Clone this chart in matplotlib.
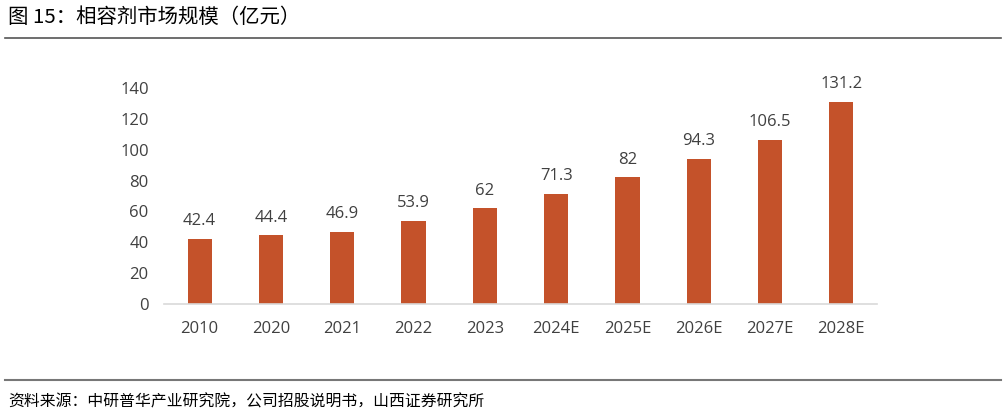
import matplotlib
matplotlib.use("Agg")
import matplotlib.pyplot as plt

plt.rcParams['font.family'] = ['Noto Sans CJK SC', 'DejaVu Sans']

# 数据
years = ['2010', '2020', '2021', '2022', '2023', '2024E', '2025E', '2026E', '2027E', '2028E']
market_size = [42.4, 44.4, 46.9, 53.9, 62, 71.3, 82, 94.3, 106.5, 131.2]
value_labels = ['42.4', '44.4', '46.9', '53.9', '62', '71.3', '82', '94.3', '106.5', '131.2']
y_ticks = [0, 20, 40, 60, 80, 100, 120, 140]

BAR_COLOR = '#C4522A'
TEXT_COLOR = '#404040'

fig = plt.figure(figsize=(10.07, 4.2), dpi=100)

# 图表区域
ax = fig.add_axes([164 / 1007, 1 - 304 / 420, 713 / 1007, 216 / 420])
x = list(range(len(years)))
ax.bar(x, market_size, width=0.34, color=BAR_COLOR)

for xi, v, lab in zip(x, market_size, value_labels):
    ax.annotate(lab, (xi, v), xytext=(0, 7), textcoords='offset points',
                ha='center', va='bottom', fontsize=12, color=TEXT_COLOR,
                family=['Open Sans', 'DejaVu Sans'])

ax.set_xlim(-0.5, len(years) - 0.5)
ax.set_ylim(0, 140)
ax.set_yticks(y_ticks)
ax.set_xticks(x)
ax.set_xticklabels(years)
for lab in ax.get_xticklabels() + ax.get_yticklabels():
    lab.set_family(['Open Sans', 'DejaVu Sans'])
    lab.set_fontsize(12)
    lab.set_color(TEXT_COLOR)
ax.tick_params(length=0)
ax.tick_params(axis='y', pad=11)
ax.tick_params(axis='x', pad=12)

for s in ['top', 'right', 'left']:
    ax.spines[s].set_visible(False)
ax.spines['bottom'].set_color('#D9D9D9')
ax.spines['bottom'].set_linewidth(1.2)

# 标题和来源
fig.text(8 / 1007, 1 - 17 / 420, '图 15：相容剂市场规模（亿元）', fontsize=14.7,
         va='center', ha='left', color='black')
fig.add_artist(plt.Line2D([5 / 1007, 1001 / 1007], [1 - 38 / 420, 1 - 38 / 420],
                          color='#555555', linewidth=1.2))
fig.add_artist(plt.Line2D([5 / 1007, 1001 / 1007], [1 - 380 / 420, 1 - 380 / 420],
                          color='#777777', linewidth=1.5))
fig.text(8 / 1007, 1 - 402 / 420, '资料来源：中研普华产业研究院，公司招股说明书，山西证券研究所',
         fontsize=11.4, va='center', ha='left', color='black')

fig.savefig('out.png', dpi=100)
